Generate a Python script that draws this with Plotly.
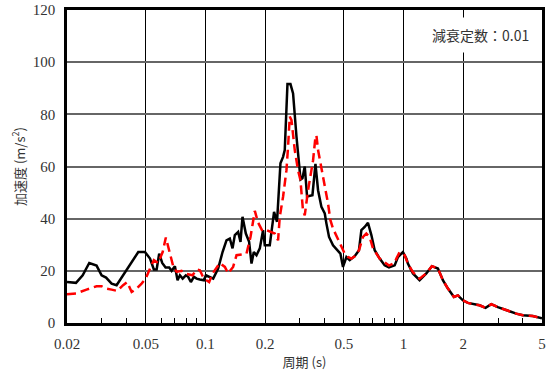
import plotly.graph_objects as go

# Periods (s) and spectral acceleration (m/s^2), damping 0.01
period_black = [0.0200, 0.0222, 0.0240, 0.0259, 0.0282, 0.0299, 0.0315, 0.0336, 0.0356, 0.0384,
                0.0424, 0.0458, 0.0495, 0.0525, 0.0549, 0.0567, 0.0584, 0.0605, 0.0629, 0.0656,
                0.0675, 0.0701, 0.0723, 0.0743, 0.0767, 0.0796, 0.0818, 0.0844, 0.0874, 0.0902,
                0.0937, 0.0982, 0.1005, 0.1044, 0.1094, 0.1159, 0.1220, 0.1277, 0.1327, 0.1370,
                0.1407, 0.1462, 0.1503, 0.1538, 0.1599, 0.1661, 0.1708, 0.1754, 0.1810, 0.1881,
                0.1954, 0.1993, 0.2112, 0.2220, 0.2298, 0.2391, 0.2465, 0.2514, 0.2594, 0.2686,
                0.2769, 0.2881, 0.3020, 0.3088, 0.3172, 0.3258, 0.3468, 0.3592, 0.3702, 0.3850,
                0.4002, 0.4081, 0.4206, 0.4406, 0.4615, 0.4800, 0.4947, 0.5147, 0.5347, 0.5668,
                0.5957, 0.6125, 0.6366, 0.6614, 0.6880, 0.7150, 0.7577, 0.8029, 0.8442, 0.902,
                0.937, 0.993, 1.033, 1.052, 1.115, 1.205, 1.303, 1.390, 1.491, 1.580,
                1.675, 1.796, 1.881, 1.993, 2.112, 2.284, 2.420, 2.594, 2.772, 2.992,
                3.172, 3.428, 3.706, 4.00, 4.49, 4.95, 5.0]
accel_black = [15.7, 15.4, 18.3, 23.0, 22.0, 18.3, 17.4, 15.1, 14.5, 18.3,
               23.4, 27.2, 27.2, 24.7, 20.5, 20.5, 26.6, 23.0, 21.3, 21.3,
               20.0, 21.8, 16.4, 18.3, 17.0, 18.3, 17.7, 15.7, 17.7, 17.0,
               16.7, 16.4, 18.3, 17.7, 17.0, 20.9, 27.2, 31.7, 32.4, 28.6,
               33.7, 34.9, 31.1, 40.7, 34.3, 31.1, 22.8, 27.2, 26.0, 28.6,
               35.6, 29.8, 29.8, 42.6, 38.8, 61.2, 63.7, 66.3, 91.6, 91.6,
               88.0, 71.4, 55.0, 55.5, 60.0, 48.5, 49.0, 61.0, 50.9, 44.5,
               42.0, 38.1, 33.0, 29.8, 27.9, 26.6, 21.5, 25.3, 24.1, 25.6,
               27.9, 35.6, 36.8, 38.4, 33.7, 27.9, 24.7, 22.1, 21.3, 22.1,
               25.3, 27.2, 24.7, 22.8, 19.0, 16.4, 19.0, 21.8, 20.9, 16.4,
               13.2, 10.0, 10.6, 8.7, 7.7, 7.1, 6.8, 5.8, 7.2, 6.1,
               5.5, 4.5, 3.6, 3.0, 2.7, 1.9, 1.8]

period_red = [0.0200, 0.0222, 0.0251, 0.0282, 0.0299, 0.0315, 0.0336, 0.0359, 0.0384, 0.0403,
              0.0424, 0.0449, 0.0476, 0.0499, 0.0525, 0.0549, 0.0577, 0.0608, 0.0631, 0.0661,
              0.0687, 0.0715, 0.0758, 0.0787, 0.0827, 0.0861, 0.0902, 0.0937, 0.0982, 0.1044,
              0.1086, 0.1128, 0.1182, 0.1253, 0.1302, 0.1379, 0.1435, 0.1521, 0.1611, 0.1688,
              0.1775, 0.1844, 0.1941, 0.2047, 0.2238, 0.2326, 0.2372, 0.2465, 0.2564, 0.2612,
              0.2664, 0.2718, 0.2769, 0.2824, 0.2933, 0.3016, 0.3108, 0.3172, 0.3296, 0.3428,
              0.3494, 0.3592, 0.3632, 0.3702, 0.3850, 0.4002, 0.4157, 0.4274, 0.4406, 0.4615,
              0.4857, 0.5046, 0.5243, 0.5455, 0.5668, 0.5957, 0.6240, 0.6490, 0.6745, 0.7010,
              0.7577, 0.8029, 0.8442, 0.902, 0.920, 0.956, 1.013, 1.052, 1.115, 1.205,
              1.303, 1.390, 1.491, 1.580, 1.675, 1.796, 1.881, 1.993, 2.112, 2.284,
              2.420, 2.594, 2.772, 2.992, 3.172, 3.428, 3.706, 4.00, 4.49, 4.95, 5.0]
accel_red = [11.0, 11.3, 12.8, 14.1, 14.1, 13.2, 12.8, 12.3, 14.5, 15.7,
             11.9, 13.2, 15.1, 17.0, 20.9, 24.1, 23.0, 27.2, 32.8, 27.2,
             21.8, 19.6, 20.0, 19.0, 18.7, 18.3, 20.5, 20.2, 17.0, 15.7,
             19.0, 20.9, 23.0, 21.5, 19.0, 21.5, 26.0, 26.3, 26.6, 33.0,
             43.0, 38.5, 35.2, 35.5, 34.3, 31.7, 40.7, 48.4, 58.6, 67.5,
             79.1, 77.8, 72.7, 66.3, 58.6, 54.8, 43.0, 41.3, 50.9, 58.0,
             62.4, 71.4, 72.0, 66.3, 59.9, 52.5, 45.8, 39.4, 36.2, 33.0,
             29.8, 26.6, 25.3, 24.7, 25.6, 27.9, 33.0, 34.3, 33.0, 28.6,
             24.7, 23.4, 22.0, 23.0, 24.7, 27.2, 26.0, 22.8, 19.5, 17.0,
             19.0, 21.8, 20.9, 16.4, 13.2, 10.0, 10.6, 8.7, 7.7, 7.1,
             6.8, 5.8, 7.2, 6.1, 5.5, 4.5, 3.6, 3.0, 2.7, 1.9, 1.8]

x_tick_vals = [0.02, 0.05, 0.1, 0.2, 0.5, 1, 2, 5]
x_tick_text = ["0.02", "0.05", "0.1", "0.2", "0.5", "1", "2", "5"]
x_minor_vals = [0.03, 0.04, 0.06, 0.07, 0.08, 0.09, 0.3, 0.4, 0.6, 0.7, 0.8, 0.9, 3, 4]
y_tick_vals = [0, 20, 40, 60, 80, 100, 120]

serif = "Liberation Serif, serif"
cjk = "Noto Sans CJK JP"

fig = go.Figure()
fig.add_trace(go.Scatter(x=period_black, y=accel_black, mode="lines",
                         line=dict(color="black", width=2.5), showlegend=False))
fig.add_trace(go.Scatter(x=period_red, y=accel_red, mode="lines",
                         line=dict(color="#ff0000", width=2.5, dash="9px,5px"), showlegend=False))

fig.update_layout(
    width=547, height=373,
    margin=dict(l=67, r=5, t=10, b=50),
    paper_bgcolor="white", plot_bgcolor="white",
    font=dict(family=serif, size=14, color="#333"),
    xaxis=dict(
        type="log", range=[-1.69897, 0.69897], automargin=False,
        tickmode="array", tickvals=x_tick_vals, ticktext=x_tick_text,
        ticks="", showgrid=True, gridcolor="black", gridwidth=1,
        showline=True, linecolor="black", linewidth=2.5, mirror=True,
        ticklabelstandoff=5,
        tickfont=dict(family=serif, size=15, color="#333"),
        minor=dict(tickmode="array", tickvals=x_minor_vals, ticks="inside",
                   ticklen=5, tickwidth=1, tickcolor="black", showgrid=False),
        title=dict(text="周期 (s)", font=dict(family=cjk, size=13, color="#333"), standoff=8),
        zeroline=False,
    ),
    yaxis=dict(
        range=[0, 120], tickmode="array", tickvals=y_tick_vals, automargin=False,
        ticks="", showgrid=True, gridcolor="#666", gridwidth=1.5,
        showline=True, linecolor="black", linewidth=2.5, mirror=True,
        ticklabelstandoff=6,
        tickfont=dict(family=serif, size=15, color="#333"),
        title=dict(text="加速度 (m/s<sup>2</sup>)", font=dict(family=cjk, size=13, color="#333"), standoff=5),
        zeroline=False,
    ),
    annotations=[dict(
        text="減衰定数：0.01", xref="paper", yref="paper", x=0.9895, y=0.92,
        xanchor="right", yanchor="middle", showarrow=False,
        font=dict(family=cjk, size=14, color="#333"),
        bgcolor="white", borderpad=7,
    )],
)

fig.write_html("out.html", config={"displayModeBar": False},
               post_script="document.body.style.margin='0';")
